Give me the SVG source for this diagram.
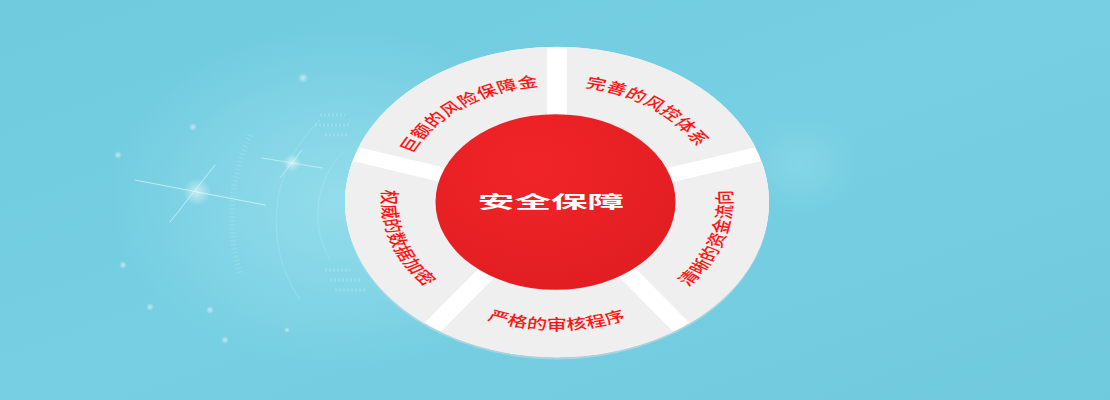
<svg xmlns="http://www.w3.org/2000/svg" xmlns:xlink="http://www.w3.org/1999/xlink" width="1110" height="400" viewBox="0 0 1110 400">
  <defs>
    <linearGradient id="bg" x1="0" y1="0" x2="1" y2="1">
      <stop offset="0" stop-color="#70cbdf"/>
      <stop offset="0.5" stop-color="#76cfe2"/>
      <stop offset="1" stop-color="#70cade"/>
    </linearGradient>
    <radialGradient id="glow" cx="0.5" cy="0.5" r="0.5">
      <stop offset="0" stop-color="#a8e6f2" stop-opacity="0.6"/>
      <stop offset="1" stop-color="#a8e6f2" stop-opacity="0"/>
    </radialGradient>
    <radialGradient id="dot" cx="0.5" cy="0.5" r="0.5">
      <stop offset="0" stop-color="#ffffff" stop-opacity="0.55"/>
      <stop offset="1" stop-color="#ffffff" stop-opacity="0"/>
    </radialGradient>
    <radialGradient id="redfill" cx="0.4" cy="0.3" r="0.8">
      <stop offset="0" stop-color="#f02428"/>
      <stop offset="1" stop-color="#e01d21"/>
    </radialGradient>
    <path id="seg" d="M 10,-99.5 L 10,-211.76 A 212 212 0 0 1 198.31,-74.94 L 91.54,-40.26 A 100 100 0 0 0 10,-99.5 Z"/>
    <path id="p-tl" d="M -150.34,-51.77 A 159 159 0 0 1 -2.77,-158.98"/>
    <path id="p-tr" d="M 2.77,-158.98 A 159 159 0 0 1 150.34,-51.77"/>
    <path id="p-r" d="M 105.32,139.76 A 175 175 0 0 0 167.35,-51.16"/>
    <path id="p-b" d="M -100.38,143.35 A 175 175 0 0 0 100.38,143.35"/>
    <path id="p-l" d="M -167.35,-51.16 A 175 175 0 0 0 -105.32,139.76"/>
  </defs>
  <style>
    .seg { fill: #efefef; }
    .lbl { font-family: "Noto Sans CJK SC", "Noto Sans", sans-serif; font-size: 20px; font-weight: 500; fill: #ff1414; letter-spacing: 0.5px; }
    .title { font-family: "Noto Sans CJK SC", "Noto Sans", sans-serif; font-size: 24px; font-weight: bold; fill: #ffffff; }
    .flare { stroke: #ffffff; stroke-linecap: round; }
    .tech { fill: none; stroke: #bfeef7; stroke-opacity: 0.3; }
  </style>

  <!-- background -->
  <rect x="0" y="0" width="1110" height="400" fill="url(#bg)"/>
  <ellipse cx="340" cy="200" rx="230" ry="170" fill="url(#glow)"/>
  <ellipse cx="800" cy="165" rx="60" ry="50" fill="url(#glow)" opacity="0.5"/>
  <g class="tech">
    <path d="M 320,120 A 140 140 0 0 0 300,300" stroke-width="1"/>
    <path d="M 345,150 A 90 90 0 0 0 330,260" stroke-width="1"/>
    <path d="M 250,135 A 200 200 0 0 0 240,275" stroke-width="6" stroke-dasharray="1 3"/>
    <path d="M 320,115 L 345,115 M 315,125 L 350,125 M 325,135 L 348,135" stroke-width="3" stroke-dasharray="2 2"/>
    <path d="M 325,270 L 350,270 M 330,280 L 360,280 M 335,290 L 365,290" stroke-width="3" stroke-dasharray="2 2"/>
  </g>
  <g>
    <circle cx="303" cy="78" r="5" fill="url(#dot)"/>
    <circle cx="193" cy="127" r="4" fill="url(#dot)"/>
    <circle cx="118" cy="155" r="4" fill="url(#dot)"/>
    <circle cx="123" cy="265" r="4" fill="url(#dot)"/>
    <circle cx="150" cy="307" r="4" fill="url(#dot)"/>
    <circle cx="210" cy="310" r="4" fill="url(#dot)"/>
    <circle cx="225" cy="340" r="4" fill="url(#dot)"/>
    <circle cx="287" cy="330" r="3" fill="url(#dot)"/>
    <circle cx="197" cy="192" r="14" fill="url(#dot)"/>
    <circle cx="292" cy="163" r="9" fill="url(#dot)"/>
    <line class="flare" x1="135" y1="180" x2="265" y2="205" stroke-width="1" stroke-opacity="0.55"/>
    <line class="flare" x1="170" y1="222" x2="215" y2="165" stroke-width="1" stroke-opacity="0.55"/>
    <line class="flare" x1="262" y1="158" x2="322" y2="168" stroke-width="1" stroke-opacity="0.45"/>
    <line class="flare" x1="280" y1="178" x2="302" y2="150" stroke-width="1" stroke-opacity="0.45"/>
  </g>

  <!-- wheel (drawn in circle coordinates, squashed vertically) -->
  <g transform="translate(557,202) scale(1,0.732)">
    <circle cx="0" cy="3" r="212" fill="#cbd9dc" opacity="0.6"/>
    <circle cx="0" cy="0" r="212" fill="#ffffff"/>

    <g id="node-risk-system">
      <use xlink:href="#seg" class="seg"/>
      <text class="lbl"><textPath xlink:href="#p-tr" startOffset="50%" text-anchor="middle">完善的风控体系</textPath></text>
    </g>
    <g id="node-fund-flow">
      <use xlink:href="#seg" class="seg" transform="rotate(72)"/>
      <text class="lbl"><textPath xlink:href="#p-r" startOffset="50%" text-anchor="middle">清晰的资金流向</textPath></text>
    </g>
    <g id="node-audit">
      <use xlink:href="#seg" class="seg" transform="rotate(144)"/>
      <text class="lbl"><textPath xlink:href="#p-b" startOffset="50%" text-anchor="middle">严格的审核程序</textPath></text>
    </g>
    <g id="node-encryption">
      <use xlink:href="#seg" class="seg" transform="rotate(216)"/>
      <text class="lbl"><textPath xlink:href="#p-l" startOffset="50%" text-anchor="middle">权威的数据加密</textPath></text>
    </g>
    <g id="node-deposit">
      <use xlink:href="#seg" class="seg" transform="rotate(288)"/>
      <text class="lbl"><textPath xlink:href="#p-tl" startOffset="50%" text-anchor="middle">巨额的风险保障金</textPath></text>
    </g>

    <g id="node-center">
      <circle cx="-1.5" cy="0" r="120" fill="url(#redfill)"/>
    </g>
  </g>
  <g id="connectors"/>
  <text class="title" x="0" y="0" text-anchor="middle" dominant-baseline="central" textLength="122" lengthAdjust="spacingAndGlyphs" transform="translate(551,200) scale(1.2,0.72)">安全保障</text>
</svg>
